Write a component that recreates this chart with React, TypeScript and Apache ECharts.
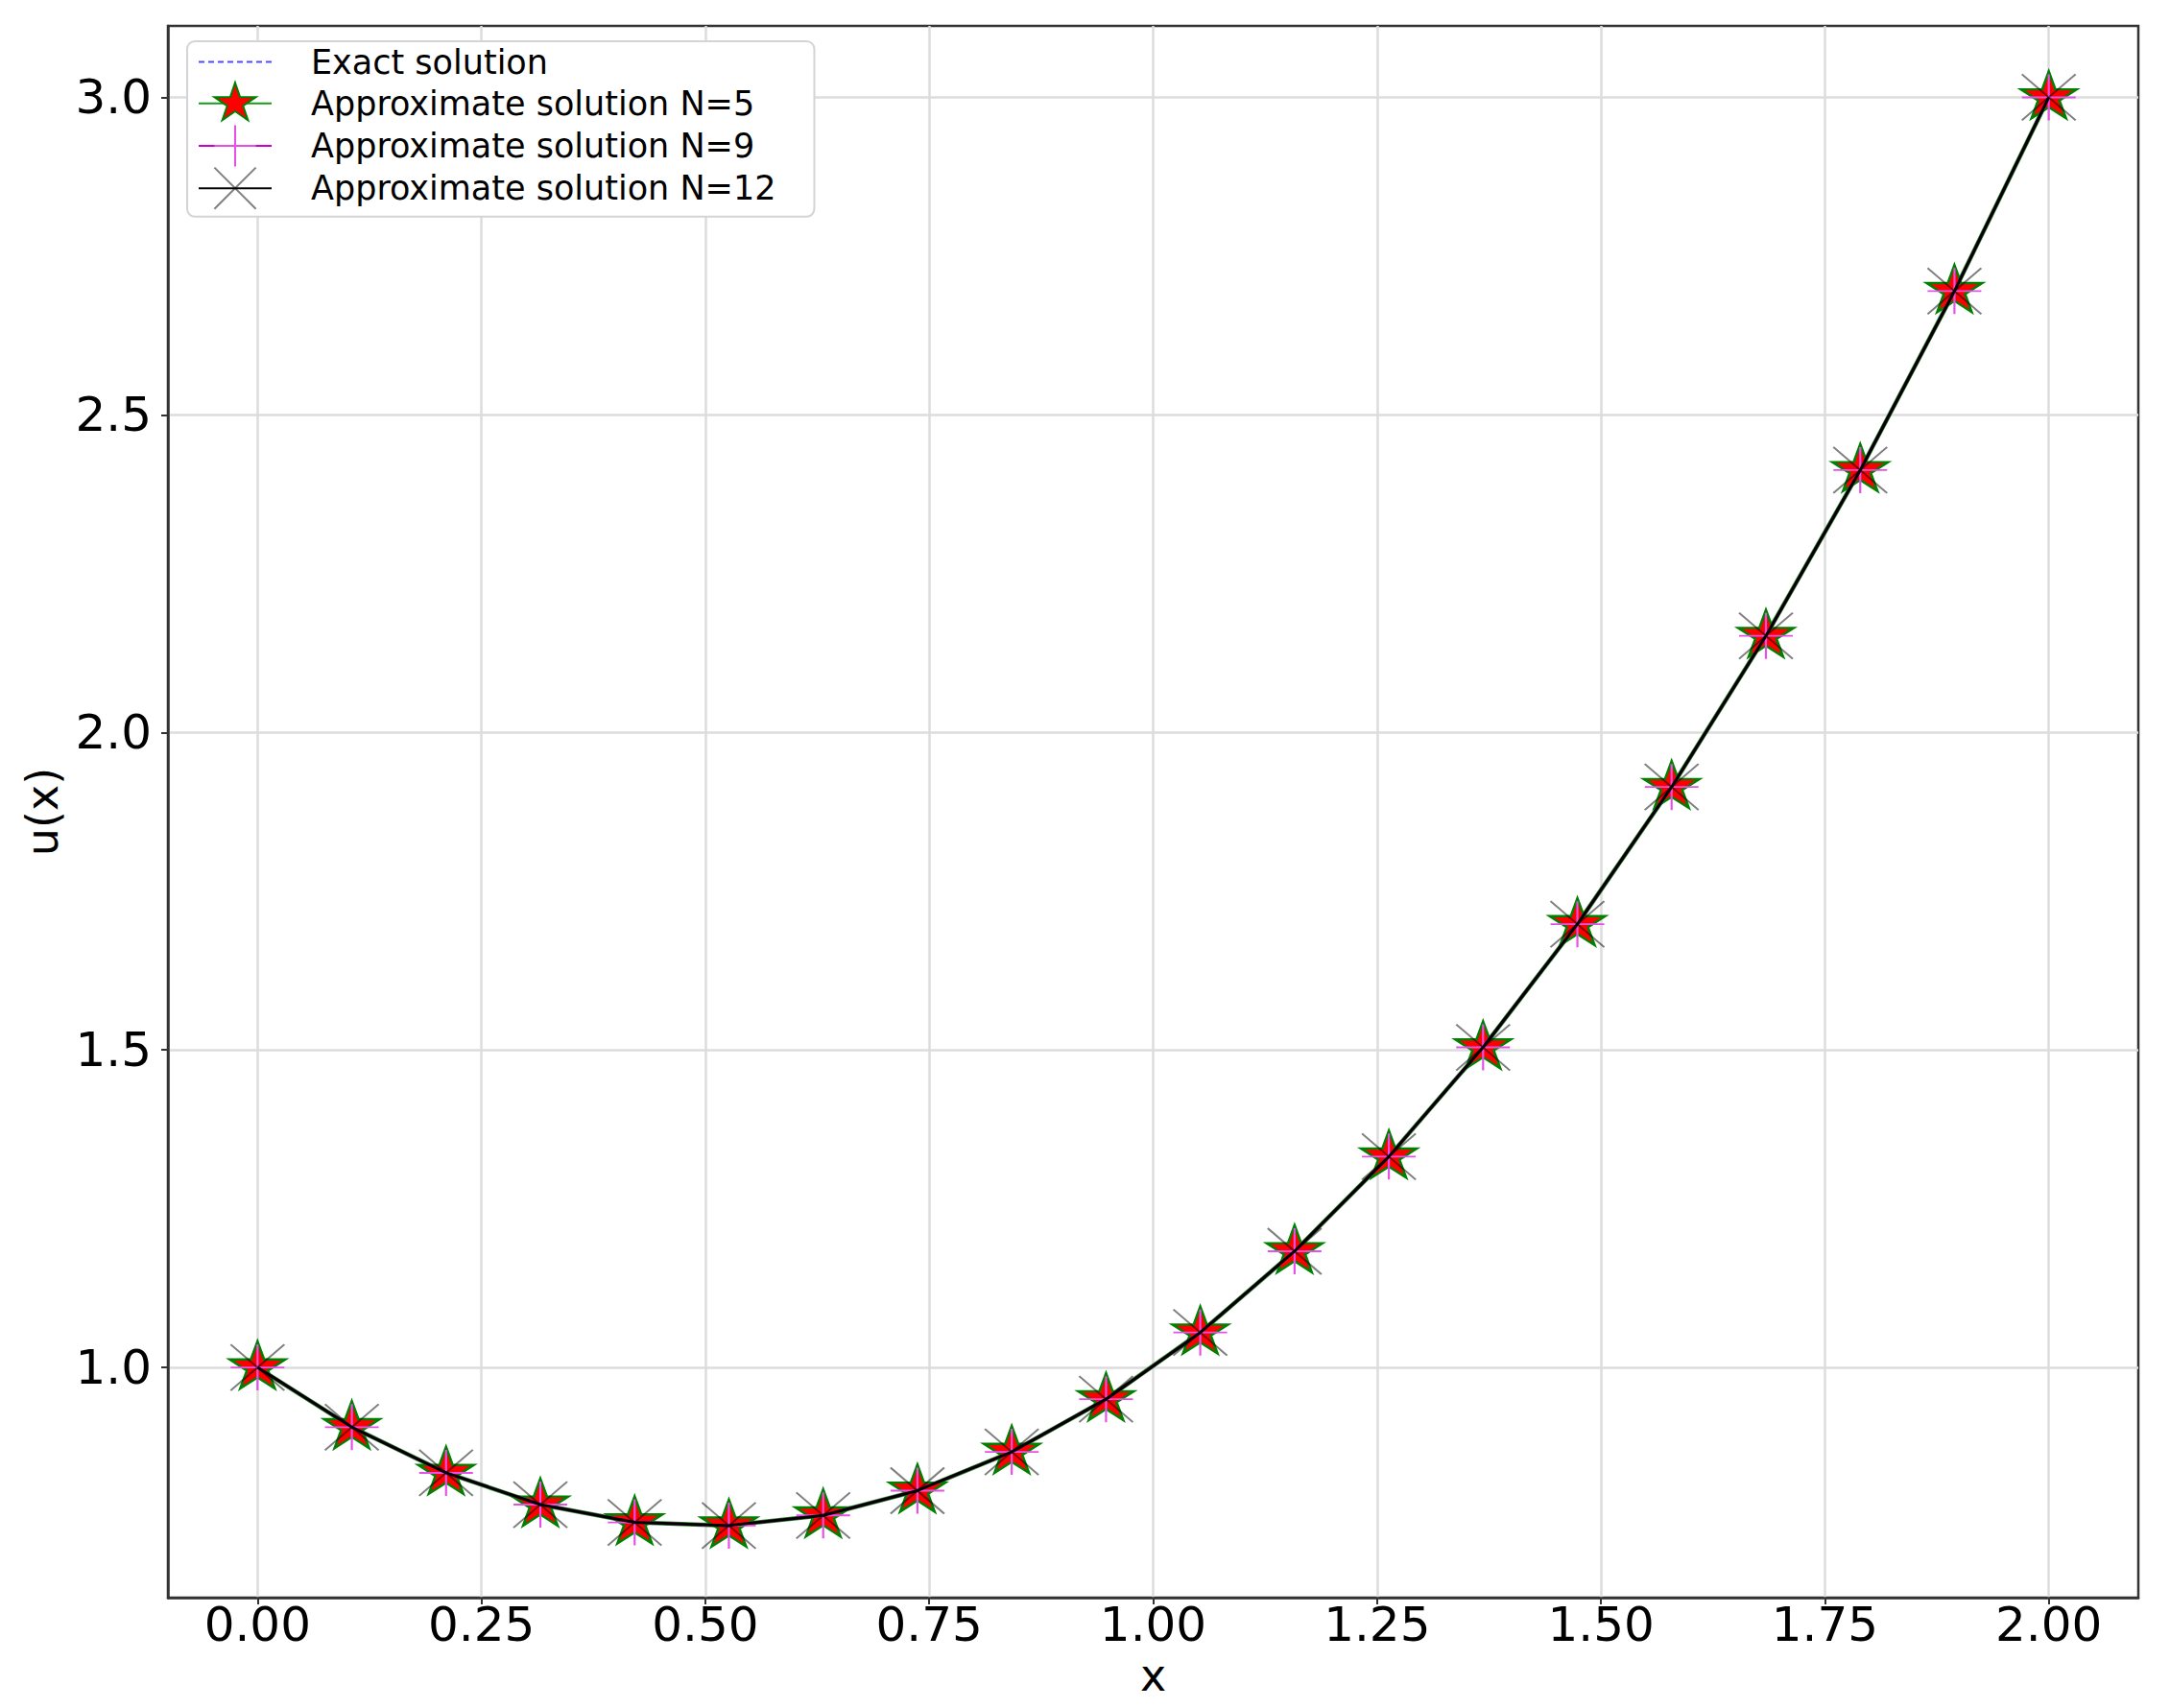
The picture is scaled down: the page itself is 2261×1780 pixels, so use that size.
import React, { useEffect, useRef } from "react";
import * as echarts from "echarts";

// ---- Data ----
const xValues = [0.0, 0.1053, 0.2105, 0.3158, 0.4211, 0.5263, 0.6316, 0.7368, 0.8421, 0.9474, 1.0526, 1.1579, 1.2632, 1.3684, 1.4737, 1.5789, 1.6842, 1.7895, 1.8947, 2.0];
const exactSolution = [1.0, 0.906, 0.834, 0.784, 0.756, 0.751, 0.767, 0.806, 0.867, 0.950, 1.055, 1.183, 1.332, 1.504, 1.698, 1.914, 2.152, 2.413, 2.695, 3.0];
const approxN5 = [1.0, 0.906, 0.834, 0.784, 0.756, 0.751, 0.767, 0.806, 0.867, 0.950, 1.055, 1.183, 1.332, 1.504, 1.698, 1.914, 2.152, 2.413, 2.695, 3.0];
const approxN9 = [1.0, 0.906, 0.834, 0.784, 0.756, 0.751, 0.767, 0.806, 0.867, 0.950, 1.055, 1.183, 1.332, 1.504, 1.698, 1.914, 2.152, 2.413, 2.695, 3.0];
const approxN12 = [1.0, 0.906, 0.834, 0.784, 0.756, 0.751, 0.767, 0.806, 0.867, 0.950, 1.055, 1.183, 1.332, 1.504, 1.698, 1.914, 2.152, 2.413, 2.695, 3.0];

const seriesNames = ["Exact solution", "Approximate solution N=5", "Approximate solution N=9", "Approximate solution N=12"];
const xTicks = [0, 0.25, 0.5, 0.75, 1.0, 1.25, 1.5, 1.75, 2.0];
const yTicks = [1.0, 1.5, 2.0, 2.5, 3.0];
const xRange = [-0.1, 2.1];
const yRange = [0.6375, 3.1125];

const STAR = "path://M0,1 M0,-1 L0.2245,-0.309 L0.951,-0.309 L0.363,0.118 L0.588,0.809 L0,0.382 L-0.588,0.809 L-0.363,0.118 L-0.951,-0.309 L-0.2245,-0.309 Z";
const PLUS = "path://M-1,0 L1,0 M0,-1 L0,1";
const CROSS = "path://M-1,-1 L1,1 M-1,1 L1,-1";

const FONT = "DejaVu Sans";

const pairs = (ys: number[]) => xValues.map((x, i) => [x, ys[i]]);

export default function App() {
  const ref = useRef<HTMLDivElement>(null);
  useEffect(() => {
    document.body.style.margin = "0";
    if (!ref.current) return;
    const chart = echarts.init(ref.current, undefined, { renderer: "svg" });
    const axisLine = { show: true, onZero: false, lineStyle: { color: "#333", width: 2.5 } };
    const axisTick = { show: true, inside: false, length: 7, lineStyle: { color: "#333", width: 2 } };
    const splitLine = { show: true, lineStyle: { color: "#dcdcdc", width: 2.5 } };
    const nameTextStyle = { fontFamily: FONT, fontSize: 46, color: "#000" };
    chart.setOption({
      animation: false,
      backgroundColor: "#fff",
      grid: {
        left: 175,
        right: 33,
        top: 27,
        bottom: 115,
        show: true,
        borderColor: "#333",
        borderWidth: 2.5,
        containLabel: false,
        outerBoundsMode: "none",
      },
      xAxis: {
        type: "value",
        min: xRange[0],
        max: xRange[1],
        name: "x",
        nameLocation: "middle",
        nameGap: 54,
        nameTextStyle,
        axisLine,
        splitLine,
        axisTick: { ...axisTick, customValues: xTicks },
        axisLabel: {
          customValues: xTicks,
          formatter: (v: number) => v.toFixed(2),
          fontFamily: FONT,
          fontSize: 50,
          color: "#000",
          margin: 3,
        },
      },
      yAxis: {
        type: "value",
        min: yRange[0],
        max: yRange[1],
        name: "u(x)",
        nameLocation: "middle",
        nameGap: 108,
        nameTextStyle,
        axisLine,
        splitLine,
        axisTick: { ...axisTick, customValues: yTicks },
        axisLabel: {
          customValues: yTicks,
          formatter: (v: number) => v.toFixed(1),
          fontFamily: FONT,
          fontSize: 50,
          color: "#000",
          margin: 17,
        },
      },
      legend: {
        orient: "vertical",
        left: 195,
        top: 43,
        padding: [0, 40, 7, 11],
        itemWidth: 76,
        itemHeight: 54,
        itemGap: -1,
        selectedMode: false,
        backgroundColor: "#fff",
        borderColor: "#d4d4d4",
        borderWidth: 2,
        borderRadius: 8,
        textStyle: { fontFamily: FONT, fontSize: 35, lineHeight: 43, color: "#000", padding: [0, 0, 0, 36] },
        data: [
          { name: seriesNames[0], itemStyle: { color: "rgba(0,0,0,0)", borderColor: "rgba(0,0,0,0)", borderWidth: 0 } },
          { name: seriesNames[1] },
          { name: seriesNames[2] },
          { name: seriesNames[3] },
        ],
        z: 10,
      },
      series: [
        {
          name: seriesNames[0],
          type: "line",
          data: pairs(exactSolution),
          symbol: "none",
          color: "#4d4dff",
          lineStyle: { color: "#4d4dff", width: 2.5, type: [6, 4] },
          z: 2,
        },
        {
          name: seriesNames[1],
          type: "line",
          data: pairs(approxN5),
          symbol: STAR,
          symbolSize: [58, 54],
          color: "#ff0000",
          itemStyle: { color: "#ff0000", borderColor: "#008000", borderWidth: 2.5 },
          lineStyle: { color: "#1a9a1a", width: 4.5 },
          clip: false,
          z: 3,
        },
        {
          name: seriesNames[2],
          type: "line",
          data: pairs(approxN9),
          symbol: PLUS,
          symbolSize: [56, 48],
          color: "#e040e0",
          itemStyle: { color: "rgba(0,0,0,0)", borderColor: "#e650e6", borderWidth: 2 },
          lineStyle: { color: "#cc00cc", width: 3 },
          clip: false,
          z: 4,
        },
        {
          name: seriesNames[3],
          type: "line",
          data: pairs(approxN12),
          symbol: CROSS,
          symbolSize: [56, 48],
          color: "#000",
          itemStyle: { color: "rgba(0,0,0,0)", borderColor: "rgba(0,0,0,0.5)", borderWidth: 2 },
          lineStyle: { color: "#000", width: 3 },
          clip: false,
          z: 5,
        },
      ],
    });
    return () => chart.dispose();
  }, []);
  return <div ref={ref} style={{ width: 2261, height: 1780 }} />;
}
